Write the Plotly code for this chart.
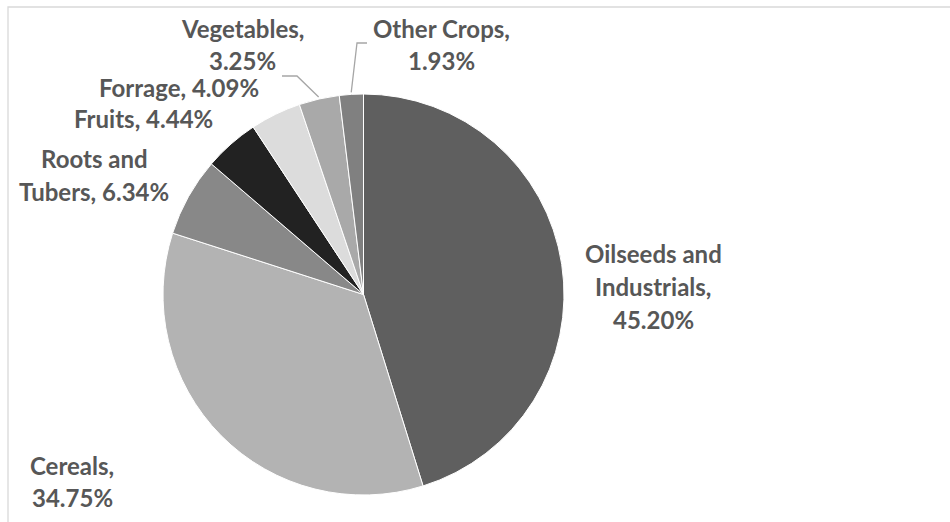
import math
import plotly.graph_objects as go

# ---- data ----
categories = ["Oilseeds and Industrials", "Cereals", "Roots and Tubers", "Fruits",
              "Forrage", "Vegetables", "Other Crops"]
shares = [45.20, 34.75, 6.34, 4.44, 4.09, 3.25, 1.93]
label_lines = [
    ["Oilseeds and", "Industrials,", "45.20%"],
    ["Cereals,", "34.75%"],
    ["Roots and", "Tubers, 6.34%"],
    ["Fruits, 4.44%"],
    ["Forrage, 4.09%"],
    ["Vegetables,", "3.25%"],
    ["Other Crops,", "1.93%"],
]
colors = ["#5f5f5f", "#b3b3b3", "#888888", "#222222", "#dcdcdc", "#a9a9a9", "#808080"]

# ---- layout constants (pixels) ----
W, H = 950, 522
CX, CY, R = 363.5, 294.5, 200.5
LINE_H = 33
# label anchor: centre x, y of first line (pixels)
label_pos = [(653, 253), (72, 465), (94, 158), (143, 118), (179, 88), (243, 28), (441, 28)]
FONT = dict(family="Lato, Carlito, Calibri, sans-serif", size=24, color="#575757")


def px(x):
    return x / W


def py(y):
    return 1 - y / H


fig = go.Figure()
fig.add_trace(go.Pie(
    labels=categories,
    values=shares,
    sort=False,
    direction="clockwise",
    rotation=0,
    marker=dict(colors=colors, line=dict(color="white", width=1)),
    textinfo="none",
    hoverinfo="label+percent",
    showlegend=False,
    domain=dict(x=[px(CX - R), px(CX + R)], y=[py(CY + R), py(CY - R)]),
))

annotations = []
for lines, (lx, ly) in zip(label_lines, label_pos):
    for i, t in enumerate(lines):
        annotations.append(dict(
            text="<b>%s</b>" % t, x=px(lx), y=py(ly + i * LINE_H),
            xref="paper", yref="paper", xanchor="center", yanchor="middle",
            showarrow=False, font=FONT,
        ))

# leader lines for the two small slices, ending at each slice's mid-angle on the rim
total = sum(shares)
cum = 0
mids = []
for v in shares:
    mids.append((cum + v / 2) / total * 360)
    cum += v


def rim(angle_deg, r=R):
    a = math.radians(angle_deg)
    return CX + r * math.sin(a), CY - r * math.cos(a)


shapes = []
leader_elbows = {5: [(282, 76), (297, 76)], 6: [(367, 43), (357, 43)]}
for idx, pts in leader_elbows.items():
    ex, ey = rim(mids[idx], R + 2)
    path_pts = pts + [(ex, ey)]
    d = "M " + " L ".join("%f,%f" % (px(x), py(y)) for x, y in path_pts)
    shapes.append(dict(type="path", path=d, xref="paper", yref="paper",
                       line=dict(color="#a6a6a6", width=1.3)))

# chart border
shapes.append(dict(type="rect", xref="paper", yref="paper",
                   x0=px(8), y0=py(530), x1=px(960), y1=py(7),
                   line=dict(color="#d9d9d9", width=1.3), fillcolor="rgba(0,0,0,0)"))

fig.update_layout(
    width=W, height=H,
    margin=dict(l=0, r=0, t=0, b=0),
    paper_bgcolor="white",
    plot_bgcolor="white",
    annotations=annotations,
    shapes=shapes,
)

fig.write_html("out.html")
